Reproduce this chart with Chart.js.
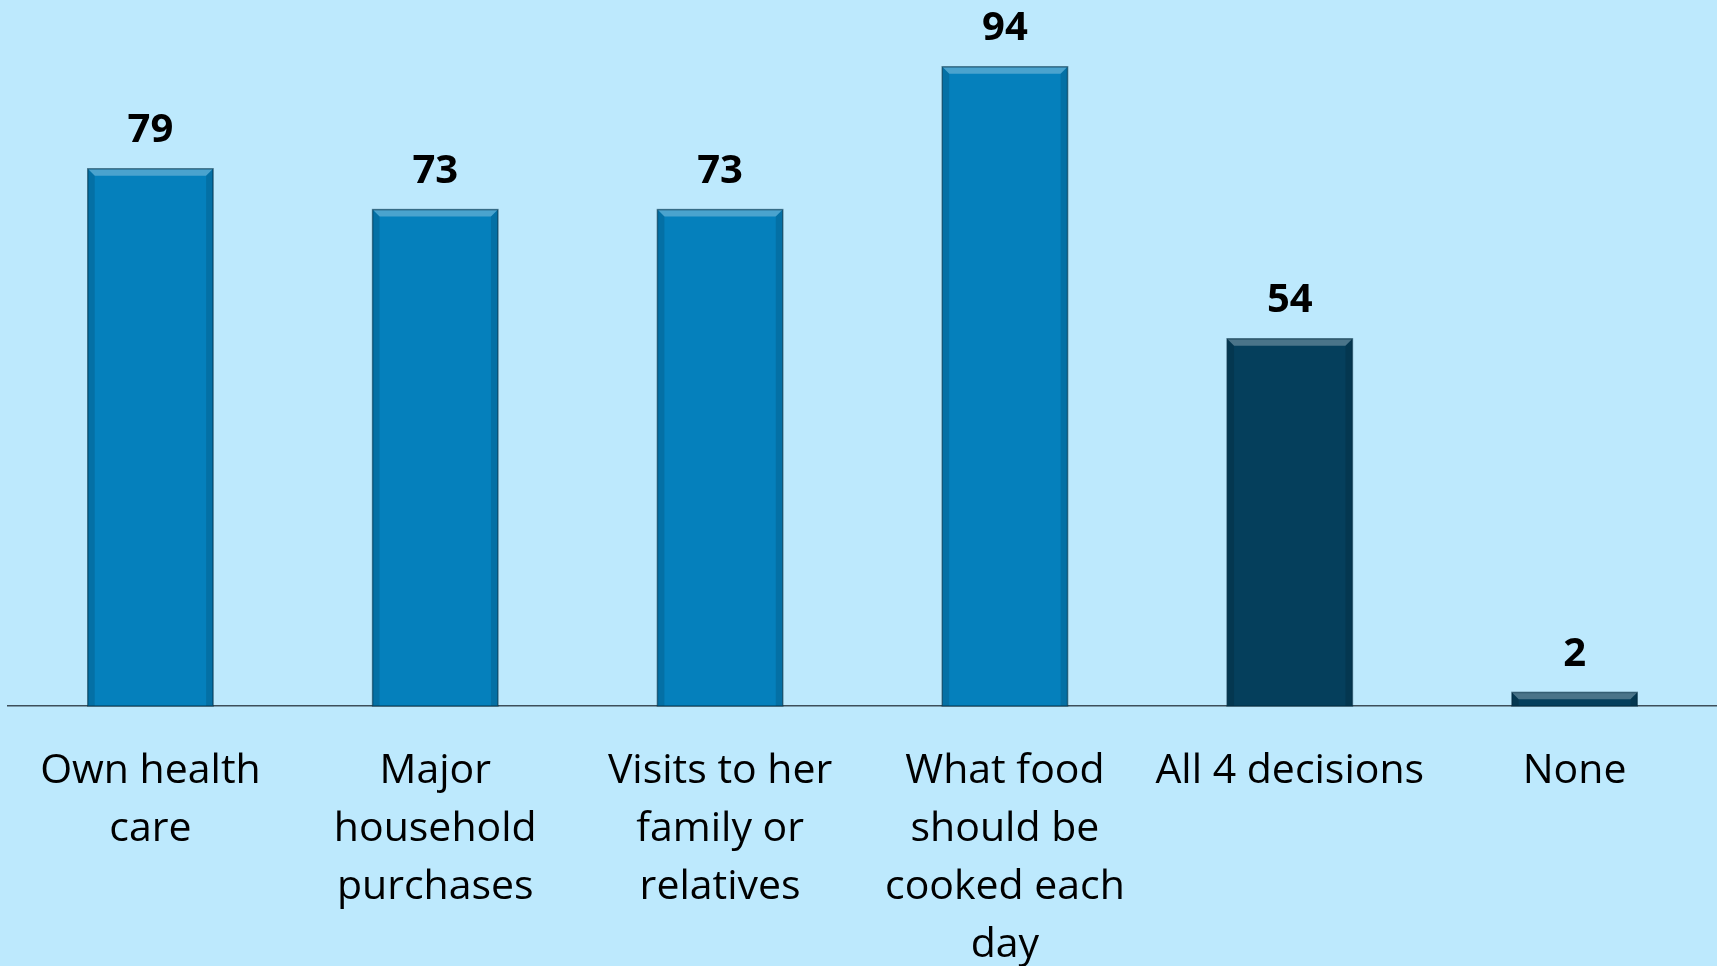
<!DOCTYPE html>
<html>
<head>
    <title>Decisions</title>
    <script src="https://cdn.jsdelivr.net/npm/chart.js"></script>
    <style>
        html, body { margin: 0; padding: 0; background: #bde9fd; }
        .chart-container { width: 1717px; height: 966px; position: relative; }
    </style>
</head>
<body>
    <div class="chart-container">
        <canvas id="decisionChart"></canvas>
    </div>

    <script>
        // data
        const categories = [
            ['Own health', 'care'],
            ['Major', 'household', 'purchases'],
            ['Visits to her', 'family or', 'relatives'],
            ['What food', 'should be', 'cooked each', 'day'],
            'All 4 decisions',
            'None'
        ];
        const percentValues = [79, 73, 73, 94, 54, 2];
        const barColors = ['#0580bc', '#0580bc', '#0580bc', '#0580bc', '#053f5c', '#053f5c'];

        // bevel look + value labels
        const bevelPlugin = {
            id: 'bevel',
            afterDatasetsDraw(chart) {
                const c = chart.ctx;
                const meta = chart.getDatasetMeta(0);
                meta.data.forEach((bar, i) => {
                    const left = bar.x - bar.width / 2;
                    const right = bar.x + bar.width / 2;
                    const top = bar.y;
                    const bottom = bar.base;
                    const b = Math.min(7, (bottom - top) / 2);
                    c.save();
                    // top light face
                    c.fillStyle = 'rgba(255,255,255,0.28)';
                    c.beginPath();
                    c.moveTo(left, top); c.lineTo(right, top);
                    c.lineTo(right - b, top + b); c.lineTo(left + b, top + b);
                    c.closePath(); c.fill();
                    // side faces
                    c.fillStyle = 'rgba(0,0,0,0.12)';
                    c.beginPath();
                    c.moveTo(left, top); c.lineTo(left + b, top + b);
                    c.lineTo(left + b, bottom); c.lineTo(left, bottom);
                    c.closePath(); c.fill();
                    c.beginPath();
                    c.moveTo(right, top); c.lineTo(right - b, top + b);
                    c.lineTo(right - b, bottom); c.lineTo(right, bottom);
                    c.closePath(); c.fill();
                    c.strokeStyle = 'rgba(0,40,60,0.55)';
                    c.lineWidth = 1.5;
                    c.strokeRect(left, top, right - left, bottom - top);
                    // value label
                    c.fillStyle = '#000';
                    c.font = 'bold 40px "Open Sans"';
                    c.textAlign = 'center';
                    c.textBaseline = 'middle';
                    c.fillText(percentValues[i], bar.x, top - 38);
                    c.restore();
                });
            }
        };

        const ctx = document.getElementById('decisionChart').getContext('2d');
        new Chart(ctx, {
            type: 'bar',
            data: {
                labels: categories,
                datasets: [{
                    data: percentValues,
                    backgroundColor: barColors,
                    borderWidth: 0,
                    barPercentage: 0.44,
                    categoryPercentage: 1.0
                }]
            },
            options: {
                responsive: true,
                maintainAspectRatio: false,
                animation: false,
                layout: { padding: { top: 26, left: 8, right: 0, bottom: 0 } },
                plugins: {
                    legend: { display: false },
                    tooltip: { enabled: false }
                },
                scales: {
                    x: {
                        grid: { display: false, drawTicks: false },
                        border: { display: true, color: '#3d4f5a', width: 1.5 },
                        ticks: {
                            color: '#000',
                            font: { family: 'Open Sans', size: 41, lineHeight: 1.42 },
                            padding: 36,
                            maxRotation: 0,
                            autoSkip: false
                        },
                        afterFit(scale) { scale.height = 260; }
                    },
                    y: {
                        display: false,
                        min: 0,
                        max: 100
                    }
                }
            },
            plugins: [bevelPlugin]
        });
    </script>
</body>
</html>
